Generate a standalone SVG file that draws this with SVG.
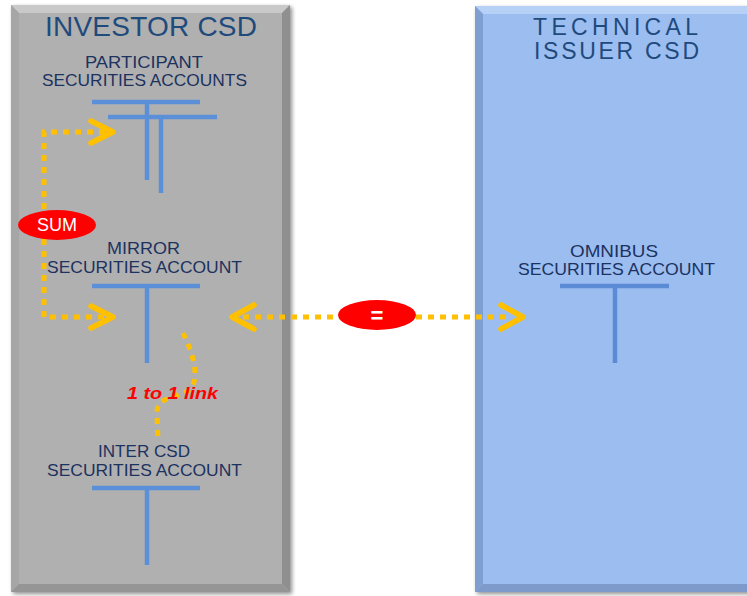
<svg xmlns="http://www.w3.org/2000/svg" width="747" height="596" viewBox="0 0 747 596">
<defs>
<style>
.title{font-family:"Liberation Sans",Arial,sans-serif;fill:#1f4a7c;}
.lbl{font-family:"Liberation Sans",Arial,sans-serif;font-size:16.5px;fill:#1c3260;text-anchor:start;}
.acct{stroke:#5b8fd8;stroke-width:4.5;fill:none;}
.dots{stroke:#ffc000;stroke-width:5;stroke-dasharray:6 6;fill:none;}
.chev{stroke:#ffc000;stroke-width:5.5;fill:none;stroke-linecap:round;stroke-linejoin:round;}
.oval{fill:#ff0000;}
.wt{font-family:"Liberation Sans",Arial,sans-serif;fill:#ffffff;text-anchor:middle;}
</style>
<filter id="sh" x="-5%" y="-5%" width="110%" height="110%">
<feGaussianBlur in="SourceAlpha" stdDeviation="2"/>
<feOffset dx="2" dy="2"/>
<feComponentTransfer><feFuncA type="linear" slope="0.45"/></feComponentTransfer>
<feMerge><feMergeNode/><feMergeNode in="SourceGraphic"/></feMerge>
</filter>
</defs>
<rect width="747" height="596" fill="#ffffff"/>

<g id="investor-csd">
<g filter="url(#sh)">
<rect x="11" y="5" width="279" height="587" fill="#b0b0b0"/>
<polygon points="11,5 290,5 282,13 19,13" fill="#c9c9c9"/>
<polygon points="11,5 19,13 19,584 11,592" fill="#a6a6a6"/>
<polygon points="290,5 290,592 282,584 282,13" fill="#8f8f8f"/>
<polygon points="11,592 290,592 282,584 19,584" fill="#959595"/>
</g>
<text class="title" x="45" y="36" font-size="28" textLength="212" lengthAdjust="spacing">INVESTOR CSD</text>
</g>

<g id="technical-issuer-csd">
<g filter="url(#sh)">
<rect x="475" y="6" width="280" height="586" fill="#9bbdf0"/>
<polygon points="475,6 755,6 755,14 483,14" fill="#b6d0f6"/>
<polygon points="475,6 483,14 483,584 475,592" fill="#7f9fd0"/>
<polygon points="475,592 755,592 755,584 483,584" fill="#7d9acb"/>
</g>
<text class="title" x="533" y="35" font-size="23" textLength="165" lengthAdjust="spacing">TECHNICAL</text>
<text class="title" x="534" y="59" font-size="23" textLength="165" lengthAdjust="spacing">ISSUER CSD</text>
</g>

<g id="participant-accounts">
<text class="lbl" x="85" y="68" textLength="118" lengthAdjust="spacingAndGlyphs">PARTICIPANT</text>
<text class="lbl" x="42" y="86" textLength="205" lengthAdjust="spacingAndGlyphs">SECURITIES ACCOUNTS</text>
<path class="acct" d="M92,102 H200 M147,102 V180 M108,117 H217 M161,117 V193"/>
</g>

<g id="mirror-account">
<text class="lbl" x="107" y="254" textLength="73" lengthAdjust="spacingAndGlyphs">MIRROR</text>
<text class="lbl" x="47" y="273" textLength="195" lengthAdjust="spacingAndGlyphs">SECURITIES ACCOUNT</text>
<path class="acct" d="M92,286 H200 M147,286 V363"/>
</g>

<g id="inter-csd-account">
<text class="lbl" x="98" y="457" textLength="92" lengthAdjust="spacingAndGlyphs">INTER CSD</text>
<text class="lbl" x="47" y="476" textLength="195" lengthAdjust="spacingAndGlyphs">SECURITIES ACCOUNT</text>
<path class="acct" d="M92,488 H200 M147,488 V565"/>
</g>

<g id="omnibus-account">
<text class="lbl" x="570" y="257" textLength="88" lengthAdjust="spacingAndGlyphs">OMNIBUS</text>
<text class="lbl" x="518" y="275" textLength="197" lengthAdjust="spacingAndGlyphs">SECURITIES ACCOUNT</text>
<path class="acct" d="M560,286 H669 M615,286 V363" style="stroke:#5a8bd4"/>
</g>

<g id="connectors">
<path class="dots" d="M105,132 H44 V317 H105"/>
<path class="chev" d="M91,121 L113,132 L91,143"/>
<path class="chev" d="M91,306 L113,317 L91,328"/>
<path class="dots" d="M243,317 H340 M416,317 H512"/>
<path class="chev" d="M254,305 L232,317 L254,329"/>
<path class="chev" d="M501,305 L523,317 L501,329"/>
<path class="dots" d="M183,333 C194,355 202,384 186,392 C166,400 156,399 157,415 L158,440"/>
</g>

<g id="sum-badge">
<ellipse class="oval" cx="57" cy="225" rx="39" ry="15"/>
<text class="wt" x="57" y="231" font-size="18">SUM</text>
</g>

<g id="equal-badge">
<ellipse class="oval" cx="377" cy="315" rx="39" ry="15"/>
<text class="wt" x="377" y="323" font-size="22" font-weight="bold">=</text>
</g>

<g id="link-label">
<text x="127" y="399" font-family="'Liberation Sans',Arial,sans-serif" font-size="17" font-style="italic" font-weight="bold" fill="#ff0000" textLength="91" lengthAdjust="spacingAndGlyphs">1 to 1 link</text>
</g>
</svg>
